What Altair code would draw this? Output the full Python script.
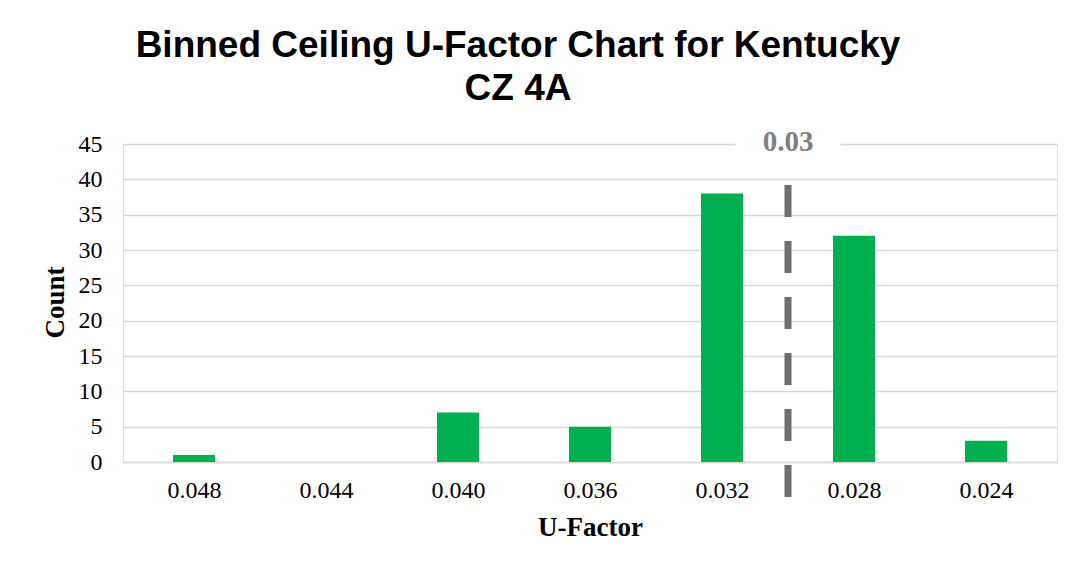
import altair as alt
import pandas as pd

# ---- data ----
u_factor = [0.048, 0.044, 0.040, 0.036, 0.032, 0.028, 0.024]
counts = [1, 0, 7, 5, 38, 32, 3]
threshold = [0.03]
threshold_label = ["0.03"]
y_ticks = [0, 5, 10, 15, 20, 25, 30, 35, 40, 45]

bars_df = pd.DataFrame({"u": u_factor, "count": counts})
thr_df = pd.DataFrame({
    "u": threshold,
    "label": threshold_label,
    "top": [39.2],
    "bottom": [-5.0],
    "ylab": [45],
    "bg_lo": [43.2],
    "bg_hi": [46.8],
})

GREEN = "#00B050"
GRID = "#D9D9D9"
SERIF = "Liberation Serif"

x_scale = alt.Scale(domain=[0.022, 0.050], reverse=True, nice=False, zero=False)
y_scale = alt.Scale(domain=[0, 45], nice=False)

x_axis = alt.Axis(
    values=u_factor, format=".3f", title="U-Factor", grid=False, ticks=False,
    domain=True, domainColor=GRID, domainWidth=1.5,
    labelFont=SERIF, labelFontSize=24, labelColor="#000000", labelPadding=16,
    titleFont=SERIF, titleFontSize=27, titleFontWeight="bold", titleColor="#000000",
    titleY=65, titleBaseline="middle",
)
y_axis = alt.Axis(
    values=y_ticks, title="Count", grid=True, gridColor=GRID, gridWidth=1.5,
    domain=False, ticks=False,
    labelFont=SERIF, labelFontSize=24, labelColor="#000000", labelPadding=21,
    titleFont=SERIF, titleFontSize=27, titleFontWeight="bold", titleColor="#000000",
    titleX=-68, titleY=158, titleBaseline="middle", titleAlign="center",
)

bars = alt.Chart(bars_df).mark_bar(color=GREEN, size=42).encode(
    x=alt.X("u:Q", scale=x_scale, axis=x_axis),
    y=alt.Y("count:Q", scale=y_scale, axis=y_axis),
)

label_bg = alt.Chart(thr_df).mark_bar(color="white", size=105, clip=False).encode(
    x=alt.X("u:Q", scale=x_scale, axis=x_axis),
    y=alt.Y("bg_lo:Q", scale=y_scale, axis=y_axis),
    y2="bg_hi:Q",
)

label = alt.Chart(thr_df).mark_text(
    font=SERIF, fontSize=29, fontWeight="bold", color="#7F7F7F", baseline="middle", dy=-2
).encode(
    x=alt.X("u:Q", scale=x_scale, axis=x_axis),
    y=alt.Y("ylab:Q", scale=y_scale, axis=y_axis),
    text="label:N",
)

rule = alt.Chart(thr_df).mark_rule(
    color="#6E6E70", strokeWidth=7, strokeDash=[32, 24], clip=False
).encode(
    x=alt.X("u:Q", scale=x_scale, axis=x_axis),
    y=alt.Y("top:Q", scale=y_scale, axis=y_axis),
    y2="bottom:Q",
)

chart = alt.layer(bars, label_bg, label, rule).properties(
    width=934,
    height=318,
    autosize="none",
    padding={"left": 115, "top": 136, "right": 10, "bottom": 88},
    title=alt.Title(
        ["Binned Ceiling U-Factor Chart for Kentucky", "CZ 4A"],
        font="Liberation Sans", fontSize=37, fontWeight="bold", color="#000000",
        anchor="middle", frame="group", dx=-72, offset=-17, baseline="bottom",
        lineHeight=43,
    ),
).configure_view(strokeWidth=0, stroke="transparent").configure(background="white")

chart.save("out.html", embed_options={"renderer": "svg", "actions": False})
